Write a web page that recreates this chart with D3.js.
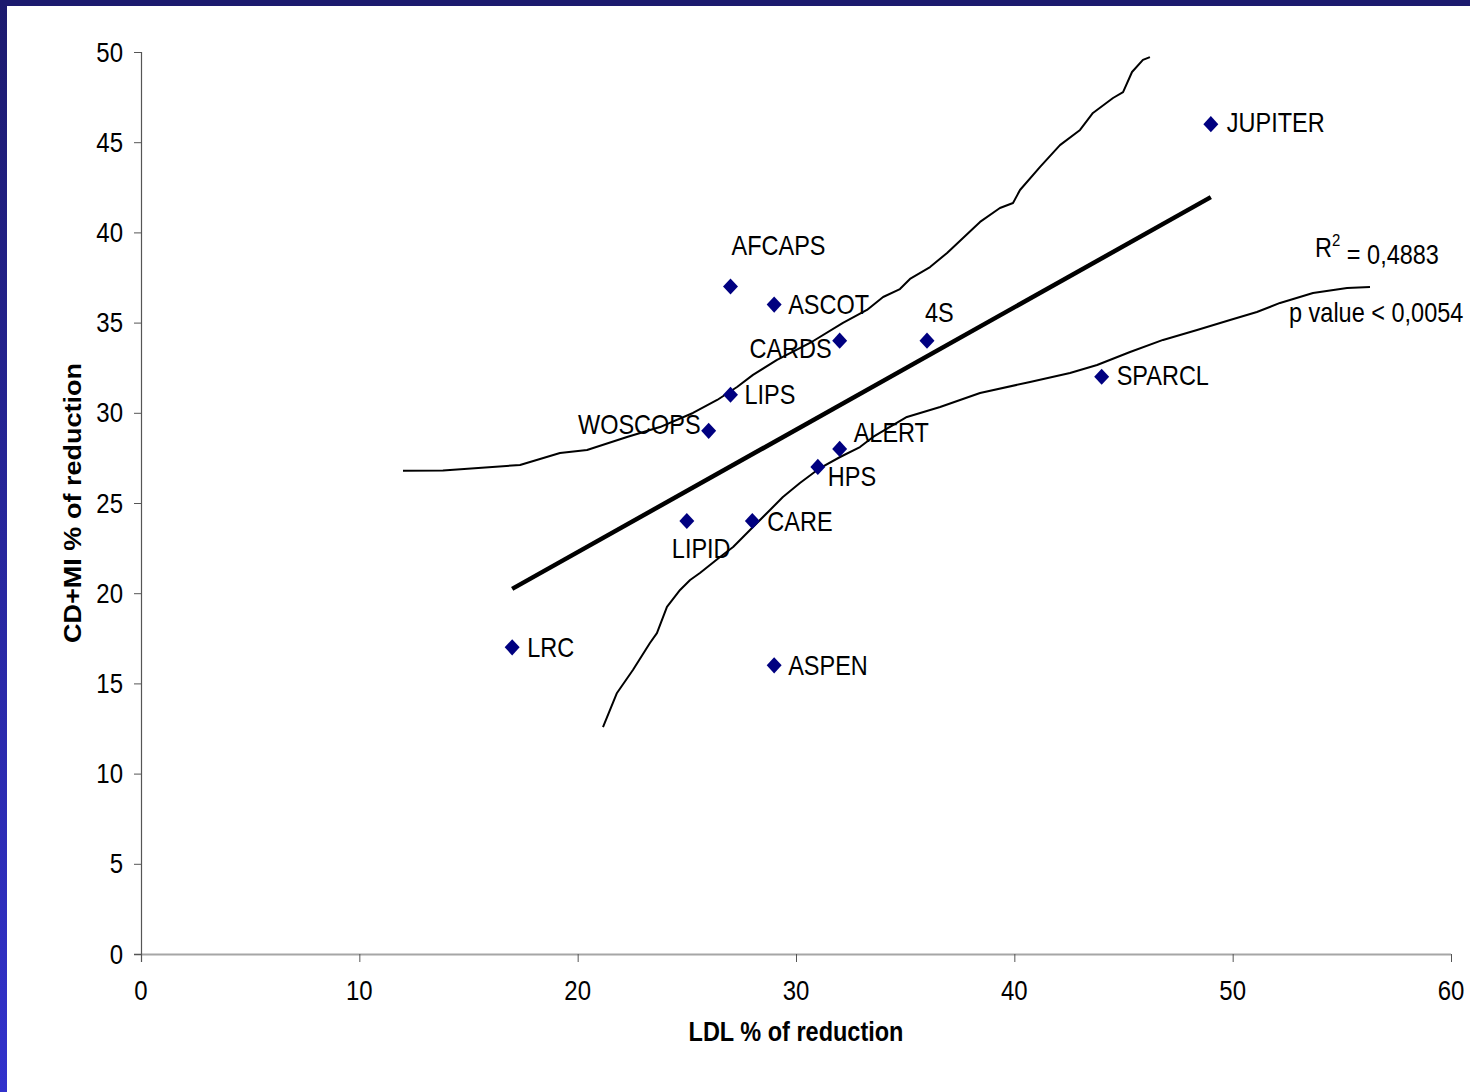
<!DOCTYPE html>
<html>
<head>
<meta charset="utf-8">
<script src="https://cdn.jsdelivr.net/npm/d3@7"></script>
<style>
  html, body { margin: 0; padding: 0; background: #fff; }
  svg { display: block; }
  text { font-family: "Liberation Sans", Arial, sans-serif; fill: #000; }
</style>
</head>
<body>
<svg id="chart" width="1470" height="1092"></svg>
<script>
// Statin trials: LDL reduction vs. reduction in coronary death + MI (%)
const trials = ["JUPITER", "AFCAPS", "ASCOT", "CARDS", "4S", "LIPS", "WOSCOPS",
                "ALERT", "HPS", "CARE", "LIPID", "LRC", "ASPEN", "SPARCL"];
const ldlReduction   = [49, 27, 29, 32, 36, 27, 26, 32, 31, 28, 25, 17, 29, 44];
const eventReduction = [46, 37, 36, 34, 34, 31, 29, 28, 27, 24, 24, 17, 16, 32];

const xTicks = [0, 10, 20, 30, 40, 50, 60];
const yTicks = [0, 5, 10, 15, 20, 25, 30, 35, 40, 45, 50];

// Upper confidence curve
const upperX = [12.0, 13.83, 17.36, 19.19, 20.43, 22.26, 23.77, 25.28, 26.39, 27.30, 28.03, 29.13,
                30.64, 32.15, 33.25, 33.99, 34.76, 35.22, 36.14, 36.92, 37.65, 38.43, 39.34, 39.94,
                40.26, 41.18, 42.09, 43.01, 43.60, 44.52, 44.98, 45.39, 45.89, 46.21];
const upperY = [26.79, 26.80, 27.11, 27.77, 27.94, 28.66, 29.21, 29.99, 30.71, 31.43, 32.10, 32.93,
                33.87, 34.98, 35.70, 36.42, 36.86, 37.42, 38.08, 38.86, 39.69, 40.58, 41.35, 41.63,
                42.35, 43.63, 44.84, 45.68, 46.62, 47.45, 47.78, 48.89, 49.56, 49.72];

// Lower confidence curve
const lowerX = [21.16, 21.80, 22.53, 23.31, 23.63, 24.09, 24.69, 25.15, 25.60, 26.52, 27.12, 28.03,
                28.81, 29.40, 30.18, 31.10, 32.02, 32.93, 33.53, 35.08, 36.60, 38.43, 40.72, 42.55,
                43.79, 45.30, 46.81, 48.37, 49.88, 51.11, 52.17, 53.68, 55.24, 56.29];
const lowerY = [12.58, 14.47, 15.74, 17.24, 17.79, 19.24, 20.18, 20.73, 21.12, 22.01, 22.56, 23.67,
                24.61, 25.33, 26.11, 26.94, 27.55, 28.10, 28.66, 29.77, 30.32, 31.10, 31.71, 32.21,
                32.65, 33.37, 34.04, 34.59, 35.14, 35.59, 36.09, 36.64, 36.92, 36.98];

const rSquaredText = "0,4883";
const pValueText = "p value < 0,0054";

// Label placement around each marker (pixels)
const labelPlacement = {
  JUPITER: { dx: 16, dy: -2, anchor: "start" },
  AFCAPS:  { dx: 1,  dy: -41, anchor: "start" },
  ASCOT:   { dx: 14, dy: 0, anchor: "start" },
  CARDS:   { dx: -8, dy: 8, anchor: "end" },
  "4S":    { dx: -2, dy: -28, anchor: "start" },
  LIPS:    { dx: 14, dy: 0, anchor: "start" },
  WOSCOPS: { dx: -8, dy: -6, anchor: "end" },
  ALERT:   { dx: 14, dy: -16, anchor: "start" },
  HPS:     { dx: 10, dy: 10, anchor: "start" },
  CARE:    { dx: 15, dy: 0, anchor: "start" },
  LIPID:   { dx: -15, dy: 27, anchor: "start" },
  LRC:     { dx: 15, dy: 0, anchor: "start" },
  ASPEN:   { dx: 14, dy: 0, anchor: "start" },
  SPARCL:  { dx: 15, dy: -1, anchor: "start" }
};

const stretch = 1.15; // glyphs are slightly taller than their natural proportions
const svg = d3.select("#chart");

// Frame bands on the top and left edges
const defs = svg.append("defs");
const grad = defs.append("linearGradient").attr("id", "edgeGrad")
  .attr("x1", 0).attr("y1", 0).attr("x2", 0).attr("y2", 1);
grad.append("stop").attr("offset", "0%").attr("stop-color", "#1c1a6e");
grad.append("stop").attr("offset", "100%").attr("stop-color", "#3232cc");
svg.append("rect").attr("x", 0).attr("y", 0).attr("width", 7).attr("height", 1092).attr("fill", "url(#edgeGrad)");
svg.append("rect").attr("x", 0).attr("y", 0).attr("width", 1470).attr("height", 6).attr("fill", "#1c1a6e");

const x = d3.scaleLinear().domain([0, 60]).range([141, 1451]);
const y = d3.scaleLinear().domain([0, 50]).range([954, 52]);

function stretchedText(sel, px, py, str, opts = {}) {
  const t = sel.append("text")
    .attr("transform", `translate(${px},${py}) scale(1,${stretch})` + (opts.rotate ? ` rotate(${opts.rotate})` : ""))
    .attr("text-anchor", opts.anchor || "start")
    .attr("dy", "0.35em")
    .style("font-size", (opts.size || 23.5) + "px")
    .style("font-weight", opts.weight || "normal")
    .text(str);
  return t;
}

// Axes
const xAxis = svg.append("g").attr("transform", `translate(0,${y(0)})`)
  .call(d3.axisBottom(x).tickValues(xTicks).tickSize(8).tickPadding(6).tickFormat(d3.format("d")));
xAxis.select(".domain").attr("stroke", "#a6a6a6").attr("stroke-width", 2)
  .attr("d", `M${x(0) - 7},0.5H${x(60)}`);
xAxis.selectAll(".tick line").attr("stroke", "#555");
xAxis.selectAll(".tick text").remove();

const yAxis = svg.append("g").attr("transform", `translate(${x(0)},0)`)
  .call(d3.axisLeft(y).tickValues(yTicks).tickSize(7).tickFormat(d3.format("d")));
yAxis.select(".domain").attr("stroke", "#555").attr("stroke-width", 1.2)
  .attr("d", `M0.5,${y(50)}V${y(0) + 8}`);
yAxis.selectAll(".tick line").attr("stroke", "#555");
yAxis.selectAll(".tick text").remove();

const tickLabels = svg.append("g");
xTicks.forEach(v => stretchedText(tickLabels, x(v), 990, String(v), { anchor: "middle", size: 24 }));
yTicks.forEach(v => stretchedText(tickLabels, 123, y(v), String(v), { anchor: "end", size: 24 }));

// Axis titles
stretchedText(svg, 796, 1032, "LDL % of reduction", { anchor: "middle", size: 23.5, weight: "bold" });
stretchedText(svg, 73, 503, "CD+MI % of reduction", { anchor: "middle", size: 23.5, weight: "bold", rotate: -90 });

// Confidence curves
const line = d3.line().x(d => x(d[0])).y(d => y(d[1]));
svg.append("path").datum(d3.zip(upperX, upperY)).attr("d", line)
  .attr("fill", "none").attr("stroke", "#000").attr("stroke-width", 2).attr("stroke-linejoin", "round");
svg.append("path").datum(d3.zip(lowerX, lowerY)).attr("d", line)
  .attr("fill", "none").attr("stroke", "#000").attr("stroke-width", 2).attr("stroke-linejoin", "round");

// Least-squares trend line over the observed LDL range
const mx = d3.mean(ldlReduction), my = d3.mean(eventReduction);
let sxy = 0, sxx = 0;
ldlReduction.forEach((v, i) => { sxy += (v - mx) * (eventReduction[i] - my); sxx += (v - mx) * (v - mx); });
const slope = sxy / sxx, intercept = my - slope * mx;
const [xmin, xmax] = d3.extent(ldlReduction);
svg.append("path").datum([[xmin, intercept + slope * xmin], [xmax, intercept + slope * xmax]])
  .attr("d", line).attr("stroke", "#000").attr("stroke-width", 4.5).attr("fill", "none");

// Markers
const diamond = d3.symbol().type(d3.symbolSquare).size(112);
svg.append("g").selectAll("path").data(trials).join("path")
  .attr("d", diamond)
  .attr("transform", (d, i) => `translate(${x(ldlReduction[i])},${y(eventReduction[i])}) scale(1,1.08) rotate(45)`)
  .attr("fill", "#000080");

// Trial labels
const labels = svg.append("g");
trials.forEach((name, i) => {
  const p = labelPlacement[name];
  stretchedText(labels, x(ldlReduction[i]) + p.dx, y(eventReduction[i]) + p.dy, name, { anchor: p.anchor, size: 23.5 });
});

// Fit statistics
const r2 = stretchedText(svg, 1315, 248, "", { size: 23.5 });
r2.append("tspan").text("R");
r2.append("tspan").attr("dy", "-0.65em").style("font-size", "15px").text("2");
r2.append("tspan").attr("dy", "0.65em").text(" = " + rSquaredText);
stretchedText(svg, 1289, 313, pValueText, { size: 23.5 });
</script>
</body>
</html>
